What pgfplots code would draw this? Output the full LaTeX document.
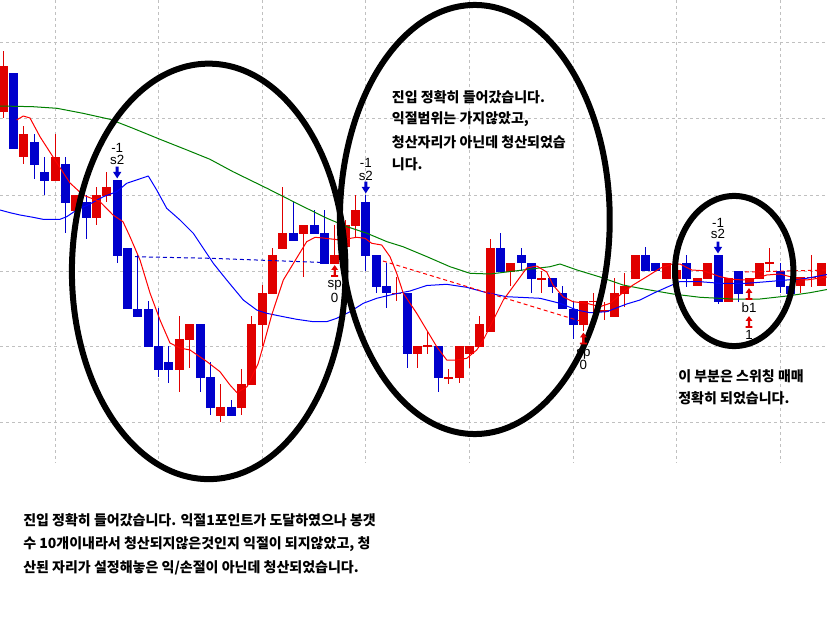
\documentclass[border=0pt]{standalone}
\usepackage{fontspec}
\setmainfont{Liberation Sans}
\newfontfamily\kr{Noto Sans CJK KR}
\usepackage{pgfplots}
\usepackage{pgfplotstable}
\pgfplotsset{compat=1.18}

\definecolor{candlered}{RGB}{224,0,0}
\definecolor{candleblue}{RGB}{0,0,204}
\definecolor{magreen}{RGB}{0,128,0}
\definecolor{lineblue}{RGB}{0,0,255}
\definecolor{linered}{RGB}{255,0,0}
\definecolor{gridgray}{RGB}{192,192,192}

% signal arrows
\pgfdeclareplotmark{sellarrow}{%
  \pgfpathmoveto{\pgfqpoint{-1.1pt}{4.4pt}}%
  \pgfpathlineto{\pgfqpoint{1.1pt}{4.4pt}}%
  \pgfpathlineto{\pgfqpoint{1.1pt}{0.4pt}}%
  \pgfpathlineto{\pgfqpoint{3.1pt}{0.4pt}}%
  \pgfpathlineto{\pgfqpoint{0pt}{-4.4pt}}%
  \pgfpathlineto{\pgfqpoint{-3.1pt}{0.4pt}}%
  \pgfpathlineto{\pgfqpoint{-1.1pt}{0.4pt}}%
  \pgfpathclose\pgfusepathqfill}
\pgfdeclareplotmark{buyarrow}{%
  \pgfpathmoveto{\pgfqpoint{0pt}{4.4pt}}%
  \pgfpathlineto{\pgfqpoint{2.6pt}{0.8pt}}%
  \pgfpathlineto{\pgfqpoint{0.9pt}{0.8pt}}%
  \pgfpathlineto{\pgfqpoint{0.9pt}{-3.0pt}}%
  \pgfpathlineto{\pgfqpoint{2.6pt}{-3.0pt}}%
  \pgfpathlineto{\pgfqpoint{2.6pt}{-4.4pt}}%
  \pgfpathlineto{\pgfqpoint{-2.6pt}{-4.4pt}}%
  \pgfpathlineto{\pgfqpoint{-2.6pt}{-3.0pt}}%
  \pgfpathlineto{\pgfqpoint{-0.9pt}{-3.0pt}}%
  \pgfpathlineto{\pgfqpoint{-0.9pt}{0.8pt}}%
  \pgfpathlineto{\pgfqpoint{-2.6pt}{0.8pt}}%
  \pgfpathclose\pgfusepathqfill}

% candles: bar index, high, low, body top, body bottom (screen units, down is lower price)
\pgfplotstableread{
n hi lo top bot
0 50.7 118.3 66 111.7
2 126 164 134 157.3
5 134 180.7 157 180.7
7 195 210.7 195 210.7
9 187.3 225 195 217.7
10 172.3 201.7 186.7 195.7
17 316 391.7 339 370
18 324 368.3 324 339.7
21 384 421.7 407 415.7
23 369 415 384 407.7
24 316 385 324 385
25 285.3 346 293 325
26 247.7 294 255 294
27 187.3 248.7 233 248.7
29 225 277.3 225 233.7
32 225 263.7 255.3 263.7
33 220 247 225 247
34 195 238.3 210 225.7
38 276.7 300.7 292.7 293.9
40 346 368.3 346 354.3
41 331.7 354 345.4 346.6
43 369 384.3 377.1 378.3
44 346 383.3 346 377.7
45 346 368.3 346 354.3
46 315.7 346.7 324 346.7
47 239.3 331.7 247.7 331.7
49 263.3 286 263.3 271.7
52 270.7 292.7 278.1 279.3
56 301.3 330.7 301.3 324.7
57 293.3 316 300.7 301.9
58 301.7 320 310.1 311.3
59 278.3 316.7 293.3 316.7
60 272.7 307.3 286 294
61 255 279 255 279
64 262.7 279 262.7 279
65 266 279 270 279
67 278.3 286 278.3 286
68 262.7 279 262.7 279
70 278.3 301.7 278.3 301.7
72 278.3 286 278.3 286
73 262.7 279 262.7 279
74 248.3 270.7 262.1 263.3
77 277.3 292.7 277.3 286
78 255 287.3 276.7 277.9
79 262.7 286 262.7 286
}\redcandles
\pgfplotstableread{
n hi lo top bot
1 72.7 149.3 72.7 149.3
3 134 179.3 142.3 165
4 157.3 195 172 180.7
6 157.3 232.7 164 202.7
8 195 239.3 202.3 217.7
11 180 262.7 180 255.7
12 248.3 309.3 248.3 309.3
13 255 316.7 309 316.7
14 301 346.7 309 346.7
15 308.3 376.7 346 370
16 346 383.3 362.3 370
19 324 391.7 324 377.7
20 362.3 415 377 407.7
22 400 415.7 407 415.7
28 202.3 241 233 241
30 210 233.7 225 233.7
31 210 263.7 233 263.7
35 195 271 201.7 255.7
36 255 293.3 255 286.7
37 263.3 308.3 285.7 293.3
39 292.7 368.3 292.7 354.3
42 346 391.7 346 377.7
48 232.7 271.7 247.7 271.7
50 247.7 270.7 255 263.3
51 263.3 292.7 263.3 278.7
53 278 292.7 278 286.7
54 286 309.3 293.3 309.3
55 300.7 338.7 309.3 324.7
62 247.3 271 255 271
63 262.7 271 262.7 271
66 255 287.3 262.7 279
69 255 304 255 301.7
71 271 301.7 271 294
75 262.7 292.7 271 287.3
76 286 294 286 294
}\bluecandles

\begin{document}
\begin{tikzpicture}
\begin{axis}[
  at={(0,0)}, anchor=south west,
  scale only axis, width=620.25pt, height=347.25pt,
  xmin=0, xmax=827, ymin=0, ymax=463, y dir=reverse,
  axis line style={draw=none}, major tick length=0pt,
  xtick={55,158.6,262.2,365.8,469.4,573,676.6,780.2},
  ytick={43,119,195,271,346,422},
  xticklabels={}, yticklabels={},
  grid=major,
  grid style={gridgray, line width=0.75pt, dash pattern=on 2.25pt off 2.25pt},
  clip=false,
  every axis plot/.append style={line join=round},
  candle/.style 2 args={draw=none, mark=none, forget plot,
    error bars/.cd, y dir=both, y explicit, error mark=none,
    error bar style={solid, line width=#1, #2}},
]
\coordinate (tl) at (axis cs:0,0);
\coordinate (br) at (axis cs:827,627);

% wicks
\addplot [candle={0.75pt}{candlered}]
  table [x expr=3.2+10.36*\thisrow{n}, y expr=(\thisrow{hi}+\thisrow{lo})/2,
         y error expr=(\thisrow{lo}-\thisrow{hi})/2] {\redcandles};
\addplot [candle={0.75pt}{candleblue}]
  table [x expr=3.2+10.36*\thisrow{n}, y expr=(\thisrow{hi}+\thisrow{lo})/2,
         y error expr=(\thisrow{lo}-\thisrow{hi})/2] {\bluecandles};
% bodies
\addplot [candle={6.75pt}{candlered}]
  table [x expr=3.2+10.36*\thisrow{n}, y expr=(\thisrow{top}+\thisrow{bot})/2,
         y error expr=(\thisrow{bot}-\thisrow{top})/2] {\redcandles};
\addplot [candle={6.75pt}{candleblue}]
  table [x expr=3.2+10.36*\thisrow{n}, y expr=(\thisrow{top}+\thisrow{bot})/2,
         y error expr=(\thisrow{bot}-\thisrow{top})/2] {\bluecandles};

% slow average
\addplot [magreen, line width=0.75pt] coordinates {
(0,106) (33,106.7) (57,108.3) (83,113.3) (110,119.3) (133,128.3) (160,139.3)
(187,150) (210,159.3) (233,171.7) (267,188.3) (300,205) (327,218.3) (347,226.7)
(367,233.3) (387,241.7) (403,246.7) (427,256.7) (450,266.7) (470,273.3) (490,274)
(523,270) (550,266.7) (560,264) (577,270) (600,277) (623,285) (640,288.3)
(673,294) (700,297.3) (733,299) (760,299) (787,296) (810,292.7) (827,289.5)};
% middle average
\addplot [lineblue, line width=0.75pt] coordinates {
(0,210) (10,212.7) (20,215) (33,217.3) (43,219.3) (60,219.3) (66.7,216.7)
(76.7,210) (90,204) (103.3,196.7) (116.7,191.7) (126.7,183.3) (148.3,176)
(156.7,190) (166.7,208.3) (180,220) (193.3,233.3) (203.3,248.3) (213.3,263.3)
(226.7,280) (243.3,300) (256.7,310) (266.7,313.3) (283.3,316.7) (296.7,319.3)
(313.3,321.7) (326.7,321.7) (336.7,318.3) (350,311.7) (363.3,303.3) (376.7,298.3)
(393.3,294.3) (410,291) (426.7,285.5) (446.7,284.3) (466.7,287.3) (486.7,292.7)
(506.7,296.7) (540,298.3) (560,303.3) (576.7,310) (590,312.7) (606.7,311.7)
(626.7,304) (640,300) (653.3,293.3) (666.7,287.3) (680,281.5) (700,281.7)
(720,283.3) (746.7,283.3) (766.7,281.7) (786.7,280) (806.7,278.3) (827,274.5)};
% fast average
\addplot [linered, line width=0.75pt] coordinates {
(16.7,120) (23.3,116) (30,118) (40,136.7) (55,160) (70,183) (83,195) (100,201.7)
(113,215) (123,221.7) (130,236.7) (140,260) (150,293) (160,320) (170,343)
(180,348) (190,350) (207,361.7) (220,371.7) (230,385) (237,392.7) (247,386.7)
(258,364) (264,343) (271.7,315) (283.3,280) (296.7,258) (306.7,241.7) (315,237.3)
(323,238) (340,240) (356.7,237.3) (365,238.3) (371.7,243.3) (381.7,245)
(390,256.7) (396.7,273.3) (403.3,293.3) (416.7,313.3) (426.7,330) (436.7,346.7)
(446.7,360) (456.7,360) (466.7,358.3) (476.7,350) (483.3,340) (493.3,320)
(503.3,300) (516.7,281.7) (526.7,268) (536.7,266) (546.7,272) (553,285)
(563,296.7) (573,301.7) (586.7,303.3) (600,306.7) (610,303.3) (620,295)
(633,285) (646.7,276.7) (660,268.3) (672,264) (680,264) (691.7,270)
(703.3,270.7) (720,276.7) (733.3,279.3) (743,280) (756.7,278.3) (766.7,275)
(780,274) (795,278) (806.7,280) (827,277)};

% open position levels
\addplot [candleblue, line width=0.75pt, dash pattern=on 3pt off 2.25pt]
  coordinates {(135,256.7) (210,258.3) (330,262.7)};
\addplot [linered, line width=0.75pt, dash pattern=on 3pt off 2.25pt]
  coordinates {(383,261) (580,321)};
\addplot [linered, line width=0.75pt, dash pattern=on 3pt off 2.25pt]
  coordinates {(745,272) (827,270)};

% entry and exit signals
\addplot [only marks, mark=sellarrow, candleblue]
  coordinates {(117.2,172.5) (365.8,187.5) (718,247.5)};
\addplot [only marks, mark=buyarrow, candlered]
  coordinates {(334.7,271) (583.4,338.5) (749,294) (749,322)};

\begin{scope}[every node/.style={font=\fontsize{10}{12}\selectfont, inner sep=0pt}]
\node at (axis cs:117.2,147.5) {-1};
\node at (axis cs:117.2,160) {s2};
\node at (axis cs:365.8,163) {-1};
\node at (axis cs:365.8,175.5) {s2};
\node at (axis cs:718,222.5) {-1};
\node at (axis cs:718,234) {s2};
\node at (axis cs:334.7,285) {sp};
\node at (axis cs:334.7,298) {0};
\node at (axis cs:583.4,354) {sp};
\node at (axis cs:583.4,365) {0};
\node at (axis cs:749,308) {b1};
\node at (axis cs:749,335) {1};
\end{scope}

\begin{scope}[every node/.style={font=\kr\bfseries\fontsize{10.5}{12}\selectfont, inner sep=0pt, anchor=west}]
\node at (axis cs:391.7,97) {진입 정확히 들어갔습니다.};
\node at (axis cs:391.7,119.5) {익절범위는 가지않았고,};
\node at (axis cs:391.7,142) {청산자리가 아닌데 청산되었습};
\node at (axis cs:391.7,164.5) {니다.};
\node at (axis cs:678,376) {이 부분은 스위칭 매매};
\node at (axis cs:678,398) {정확히 되었습니다.};
\node at (axis cs:23,520) {진입 정확히 들어갔습니다. 익절1포인트가 도달하였으나 봉갯};
\node at (axis cs:23,544) {수 10개이내라서 청산되지않은것인지 익절이 되지않았고, 청};
\node at (axis cs:23,568) {산된 자리가 설정해놓은 익/손절이 아닌데 청산되었습니다.};
\end{scope}

% highlighted zones
\draw [line width=4.5pt] (axis cs:208.7,271.4) ellipse [x radius=102.6pt, y radius=155.8pt];
\draw [line width=4.5pt] (axis cs:474.8,219.5) ellipse [x radius=101.2pt, y radius=160.9pt];
\draw [line width=4.5pt] (axis cs:734.2,271) ellipse [x radius=44.4pt, y radius=56.3pt];
\end{axis}
\pgfresetboundingbox
\useasboundingbox (tl) rectangle (br);
\end{tikzpicture}
\end{document}
